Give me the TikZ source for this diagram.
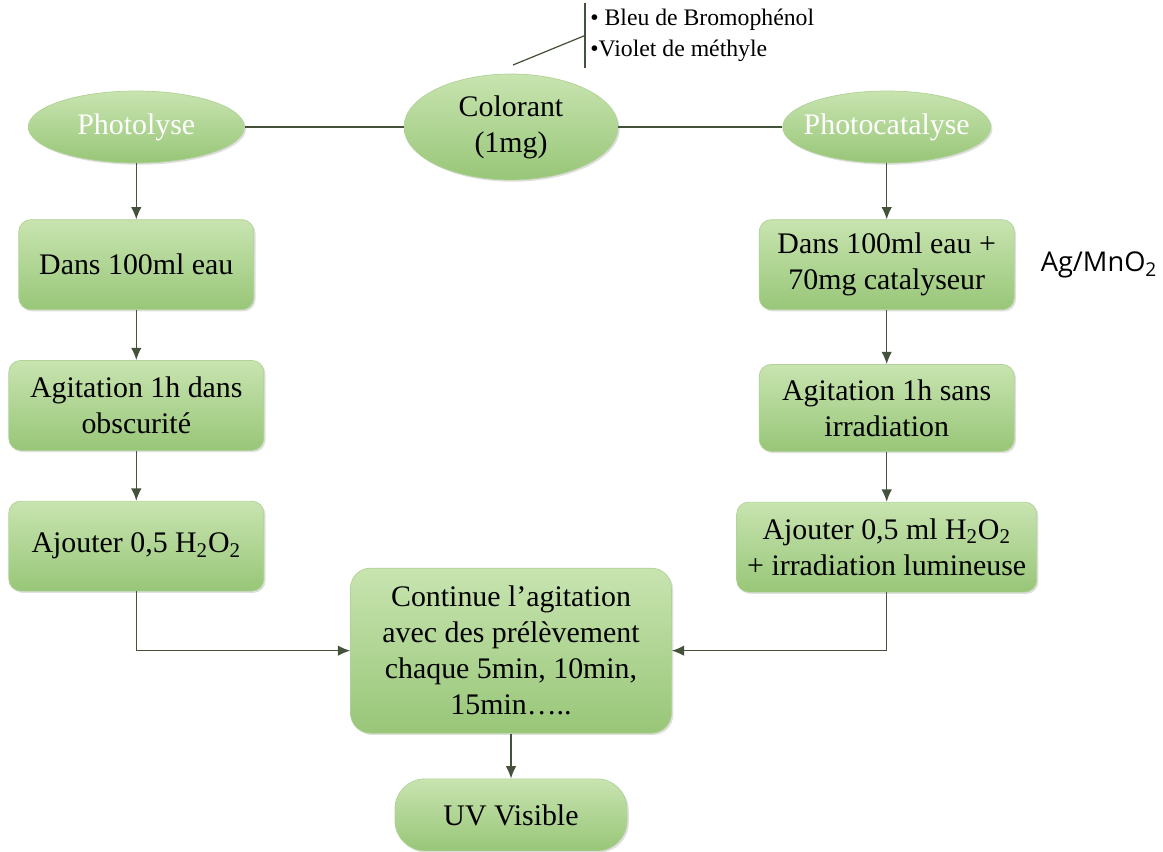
\documentclass[tikz,border=0pt]{standalone}
\usepackage{fontspec}
\setmainfont{Liberation Serif}
\newfontfamily\catfont{Open Sans}
\usetikzlibrary{shapes.geometric, arrows, arrows.meta, positioning, shadows}

\definecolor{boxtop}{RGB}{200,228,176}
\definecolor{boxbot}{RGB}{152,198,120}
\definecolor{boxline}{RGB}{176,210,150}
\definecolor{linkcol}{RGB}{68,82,60}

\tikzstyle{stepbox} = [rectangle, rounded corners=0.24cm, minimum height=1.8cm, align=center, top color=boxtop, bottom color=boxbot, draw=boxline, drop shadow={shadow xshift=1pt, shadow yshift=-1pt, opacity=0.25}, font=\fontsize{17}{20.5}\selectfont]
\tikzstyle{method} = [ellipse, inner xsep=-0.8cm, minimum width=4.3cm, minimum height=1.44cm, align=center, top color=boxtop, bottom color=boxbot, draw=boxline, drop shadow={shadow xshift=1pt, shadow yshift=-1pt, opacity=0.25}, text=white, font=\fontsize{17}{20.5}\selectfont]
\tikzstyle{arrow} = [line width=0.7pt, draw=linkcol, -{Latex[length=7pt,width=6pt]}]
\tikzstyle{link} = [line width=0.7pt, draw=linkcol]

\begin{document}
\begin{tikzpicture}
\useasboundingbox (0,0) rectangle (23.26,-17.04);

\node (colorant) [method, text=black, minimum width=4.28cm, minimum height=2.1cm] at (10.22,-2.54) {Colorant\\(1mg)};
\node (photolyse) [method, minimum width=4.32cm, left=3.18cm of colorant] {Photolyse};
\node (photocat) [method, minimum width=4.16cm, right=3.28cm of colorant] {Photocatalyse};

\coordinate (dyetick) at (10.26,-1.3);
\node (dyes) [anchor=west, align=left, inner xsep=0.1cm, inner ysep=0pt, minimum height=1.3cm, font=\fontsize{13.5}{17.6}\selectfont] at (11.7,-0.71) {\textbullet{} Bleu de Bromophénol\\\textbullet Violet de méthyle};

% photolyse
\node (dansl) [stepbox, minimum width=4.7cm, below=1.12cm of photolyse] {Dans 100ml eau};
\node (agitl) [stepbox, minimum width=5.1cm, below=1.0cm of dansl] {Agitation 1h dans\\obscurité};
\node (ajoutl) [stepbox, minimum width=5.1cm, below=1.0cm of agitl] {Ajouter 0,5 H\textsubscript{2}O\textsubscript{2}};

% photocatalyse
\node (dansr) [stepbox, minimum width=5.1cm, below=1.12cm of photocat] {Dans 100ml eau +\\70mg catalyseur};
\node (cata) [right=0.4cm of dansr, font=\catfont\fontsize{15.5}{18}\selectfont] {Ag/MnO\textsubscript{2}};
\node (agitr) [stepbox, minimum width=5.1cm, minimum height=1.74cm, below=1.08cm of dansr] {Agitation 1h sans\\irradiation};
\node (ajoutr) [stepbox, minimum width=6.0cm, below=1.0cm of agitr] {Ajouter 0,5 ml H\textsubscript{2}O\textsubscript{2}\\+ irradiation lumineuse};

\node (suite) [stepbox, rounded corners=0.4cm, minimum width=6.42cm, minimum height=3.3cm, below=7.75cm of colorant] {Continue l’agitation\\avec des prélèvement\\chaque 5min, 10min,\\15min…..};
\node (uv) [stepbox, rounded corners=0.6cm, minimum width=4.64cm, minimum height=1.44cm, below=0.9cm of suite] {UV Visible};

\draw [link] (photolyse) -- (colorant);
\draw [link] (colorant) -- (photocat);
\draw [link] (dyetick) -- (dyes.west);
\draw [link] (dyes.north west) -- (dyes.south west);

\draw [arrow] (photolyse) -- (dansl);
\draw [arrow] (dansl) -- (agitl);
\draw [arrow] (agitl) -- (ajoutl);
\draw [arrow] (photocat) -- (dansr);
\draw [arrow] (dansr) -- (agitr);
\draw [arrow] (agitr) -- (ajoutr);
\draw [arrow] (ajoutl) |- (suite);
\draw [arrow] (ajoutr) |- (suite);
\draw [arrow] (suite) -- (uv);
\end{tikzpicture}
\end{document}
